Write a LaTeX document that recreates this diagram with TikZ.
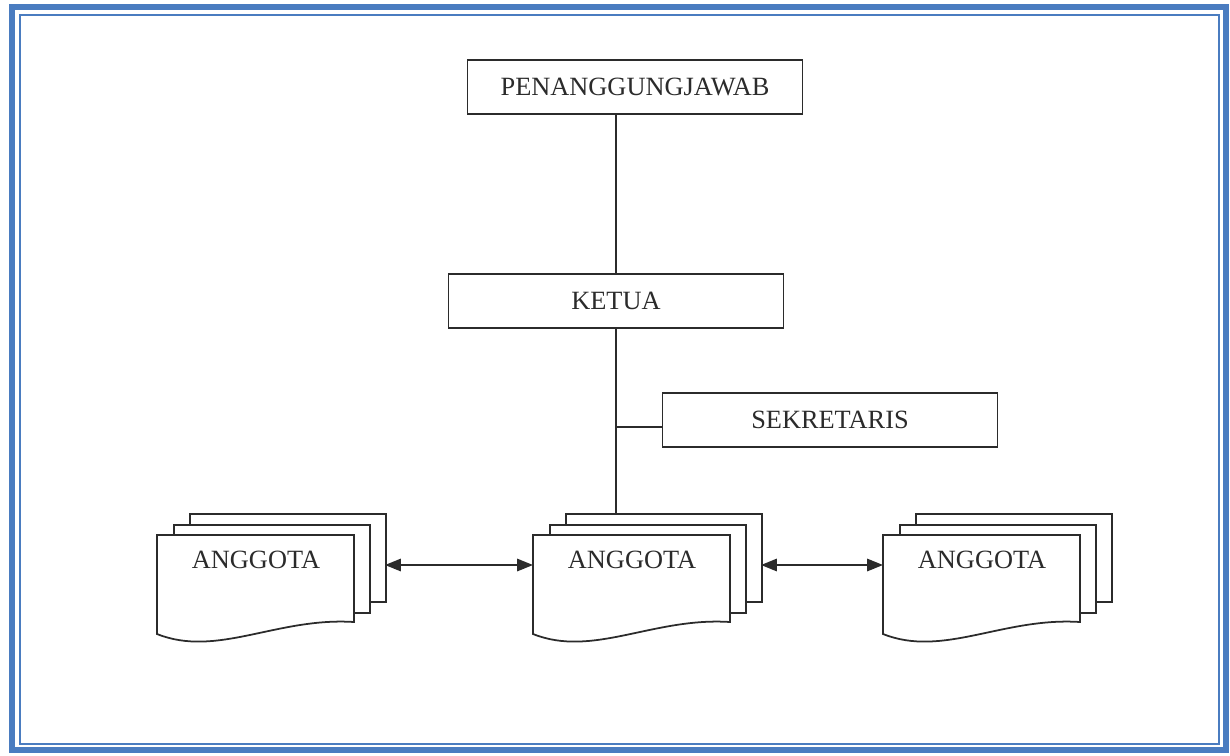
\documentclass[tikz,border=0pt]{standalone}
\usepackage{fontspec}
\setmainfont{Liberation Serif}
\usepackage{xcolor}
\usepackage{tikz}
\usetikzlibrary{arrows.meta,positioning,calc}
\definecolor{frameblue}{HTML}{4A7CC0}
\definecolor{inkgray}{HTML}{2B2B2B}

\tikzset{
  orgbox/.style={draw=inkgray,line width=1pt,fill=white,minimum width=6.7cm,minimum height=1.07cm,
    font=\fontsize{15}{17}\selectfont,text=inkgray,inner sep=0pt},
  sheet/.style={draw=inkgray,line width=1pt,fill=white,minimum width=3.92cm,minimum height=1.76cm,
    inner sep=0pt,anchor=north west},
  doclabel/.style={font=\fontsize{15}{17}\selectfont,text=inkgray},
  link/.style={inkgray,line width=1pt},
  twoway/.style={inkgray,line width=1.1pt,{Triangle[length=9pt,width=7pt]}-{Triangle[length=9pt,width=7pt]}}
}

\begin{document}
\begin{tikzpicture}[x=0.02cm,y=-0.02cm,line cap=round]
\useasboundingbox (0,0) rectangle (1230,755);
%% page frame (thick outer line, thin inner line)
\draw[frameblue,line width=3pt] (12,7) rectangle (1226,750);
\draw[frameblue,line width=1.1pt] (20,15) rectangle (1219,744);
%% top boxes
\node[orgbox] (pj) at (635,87) {PENANGGUNGJAWAB};
\node[orgbox] (ketua) at (616,301) {KETUA};
\node[orgbox] (sekre) at (830,420) {SEKRETARIS};
%% stacked documents (back sheet, middle sheet, front sheet with wavy bottom)
\foreach \x/\nm in {157/agL, 533/agM, 883/agR}{
  \node[sheet] (\nm-b) at (\x+32,513) {};
  \node[sheet] (\nm-m) at (\x+16,524) {};
  \draw[inkgray,line width=1pt,fill=white]
    (\x,535) -- (\x+197,535) -- (\x+197,622)
    .. controls (\x+120,617) and (\x+60,658) .. (\x,634) -- cycle;
  \node[doclabel] (\nm) at (\x+99,560) {ANGGOTA};
  \coordinate (\nm-w) at (\x,565);
  \coordinate (\nm-e) at (\x+228,565);
}
%% vertical line and branch to sekretaris
\coordinate (br) at (616,427);
\draw[link] (ketua.north) -- (ketua.north |- pj.south);
\draw[link] (ketua.south) -- (ketua.south |- agM-b.north);
\draw[link] (br) -- (br -| sekre.west);
%% arrows between the anggota groups
\draw[twoway] (agL-e) -- (agM-w);
\draw[twoway] (agM-e) -- (agR-w);
\end{tikzpicture}
\end{document}
